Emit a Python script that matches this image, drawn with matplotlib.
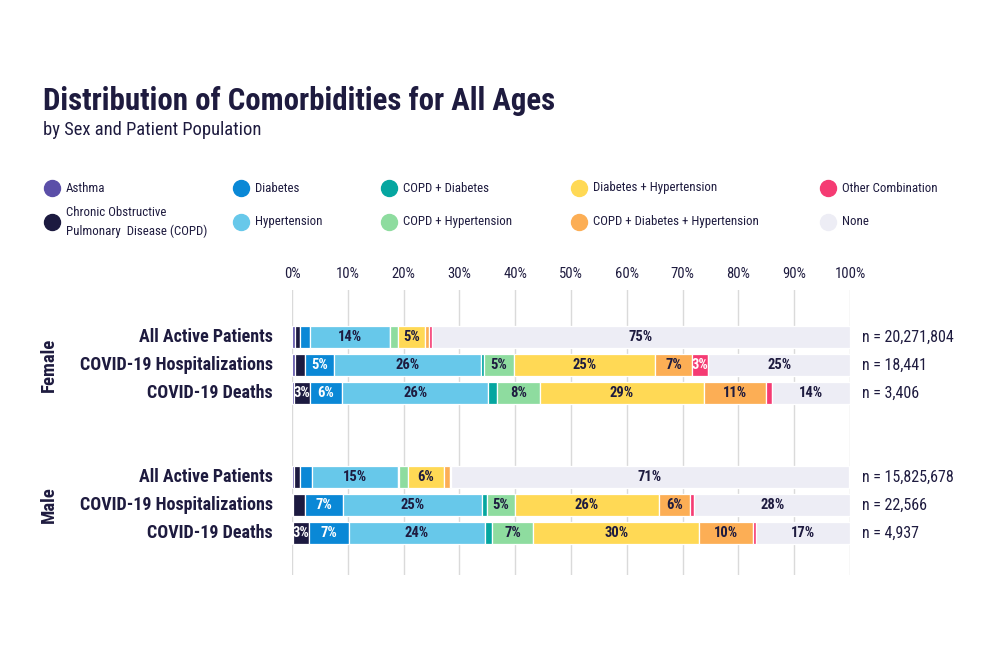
import matplotlib
matplotlib.use("Agg")
import matplotlib.pyplot as plt
from matplotlib import font_manager
from matplotlib.lines import Line2D
import numpy as np

# pick a narrow font if one is installed
names = {f.name for f in font_manager.fontManager.ttflist}
FONT = "Roboto"
for cand in ["Roboto Condensed", "Liberation Sans Narrow", "Roboto"]:
    if cand in names:
        FONT = cand
        break
plt.rcParams["font.family"] = [FONT, "DejaVu Sans"]

TXT = "#1E1B3F"

categories = ["Asthma", "Chronic Obstructive\nPulmonary  Disease (COPD)", "Diabetes", "Hypertension",
              "COPD + Diabetes", "COPD + Hypertension", "Diabetes + Hypertension",
              "COPD + Diabetes + Hypertension", "Other Combination", "None"]
colors = ["#5B4FA8", "#1C1A40", "#0A88D6", "#67C8EA", "#05A6A0", "#8EDC9F",
          "#FFD955", "#FCAE55", "#F53B73", "#EDEDF5"]
light_text = [True, True, True, False, False, False, False, False, True, False]

populations = ["All Active Patients", "COVID-19 Hospitalizations", "COVID-19 Deaths"]
sexes = ["Female", "Male"]

# percent per category, one row per population
female = [
    [0.6, 0.9, 1.8, 14.2, 0.1, 1.4, 4.8, 0.7, 0.5, 75.0],
    [0.6, 1.7, 5.2, 26.3, 0.6, 5.4, 25.3, 6.6, 2.9, 25.4],
    [0.3, 2.9, 5.8, 26.2, 1.5, 7.8, 29.3, 11.1, 1.1, 14.0],
]
male = [
    [0.4, 1.1, 2.1, 15.45, 0.1, 1.6, 6.5, 1.0, 0.2, 71.4],
    [0.2, 2.2, 6.7, 25.0, 0.8, 5.0, 25.8, 5.6, 0.8, 27.9],
    [0.2, 2.8, 7.2, 24.3, 1.4, 7.3, 29.8, 9.6, 0.5, 16.9],
]
female_n = ["20,271,804", "18,441", "3,406"]
male_n = ["15,825,678", "22,566", "4,937"]

fig = plt.figure(figsize=(10, 6.67), dpi=100)
ax = fig.add_axes([0.292, 0.138, 0.558, 0.427])

groups = [(female, female_n, 0), (male, male_n, 5)]
for data, ns, start in groups:
    for i, row in enumerate(data):
        y = start + i
        left = 0
        for j, v in enumerate(row):
            ax.barh(y, v, left=left, height=0.78, color=colors[j],
                    edgecolor="white", linewidth=0.9, zorder=2)
            if v >= 2.5:
                ax.text(left + v / 2, y, f"{round(v)}%", ha="center", va="center",
                        fontsize=10.5, fontweight="bold",
                        color="white" if light_text[j] else TXT, zorder=3)
            left += v
        ax.text(-3.4, y, populations[i], ha="right", va="center", fontsize=13,
                fontweight="bold", color=TXT)
        ax.text(102.2, y, f"n = {ns[i]}", ha="left", va="center", fontsize=11.5,
                color=TXT)

for k, sex in enumerate(sexes):
    ax.text(-43.6, groups[k][2] + 1, sex, rotation=90, ha="center", va="center",
            fontsize=13.5, fontweight="bold", color=TXT)

ax.set_xlim(0, 100)
ax.set_ylim(8.5, -1.68)
ax.set_xticks(np.arange(0, 101, 10))
ax.set_xticklabels([f"{t}%" for t in range(0, 101, 10)])
ax.xaxis.tick_top()
ax.tick_params(axis="x", length=0, pad=6.5, labelsize=10.5, labelcolor=TXT)
ax.set_yticks([])
ax.grid(axis="x", color="#DADADA", linewidth=1, zorder=0)
ax.set_axisbelow(True)
for s in ax.spines.values():
    s.set_visible(False)

# title
fig.text(0.043, 0.835, "Distribution of Comorbidities for All Ages", fontsize=22.2,
         fontweight="bold", color=TXT, ha="left", va="baseline")
fig.text(0.043, 0.797, "by Sex and Patient Population", fontsize=13.3,
         color=TXT, ha="left", va="baseline")

# legend, column-major
col_x = [0.052, 0.241, 0.389, 0.579, 0.828]
row_y = [1 - 188 / 667, 1 - 222 / 667]
for j, (cat, c) in enumerate(zip(categories, colors)):
    cx = col_x[j // 2]
    cy = row_y[j % 2]
    fig.add_artist(Line2D([cx], [cy], marker="o", markersize=11.5, color=c,
                          linestyle="none", transform=fig.transFigure))
    fig.text(cx + 0.014, cy, cat, fontsize=9.3, color=TXT, ha="left", va="center",
             linespacing=1.5)

fig.savefig("out.png", dpi=100, facecolor="white")
